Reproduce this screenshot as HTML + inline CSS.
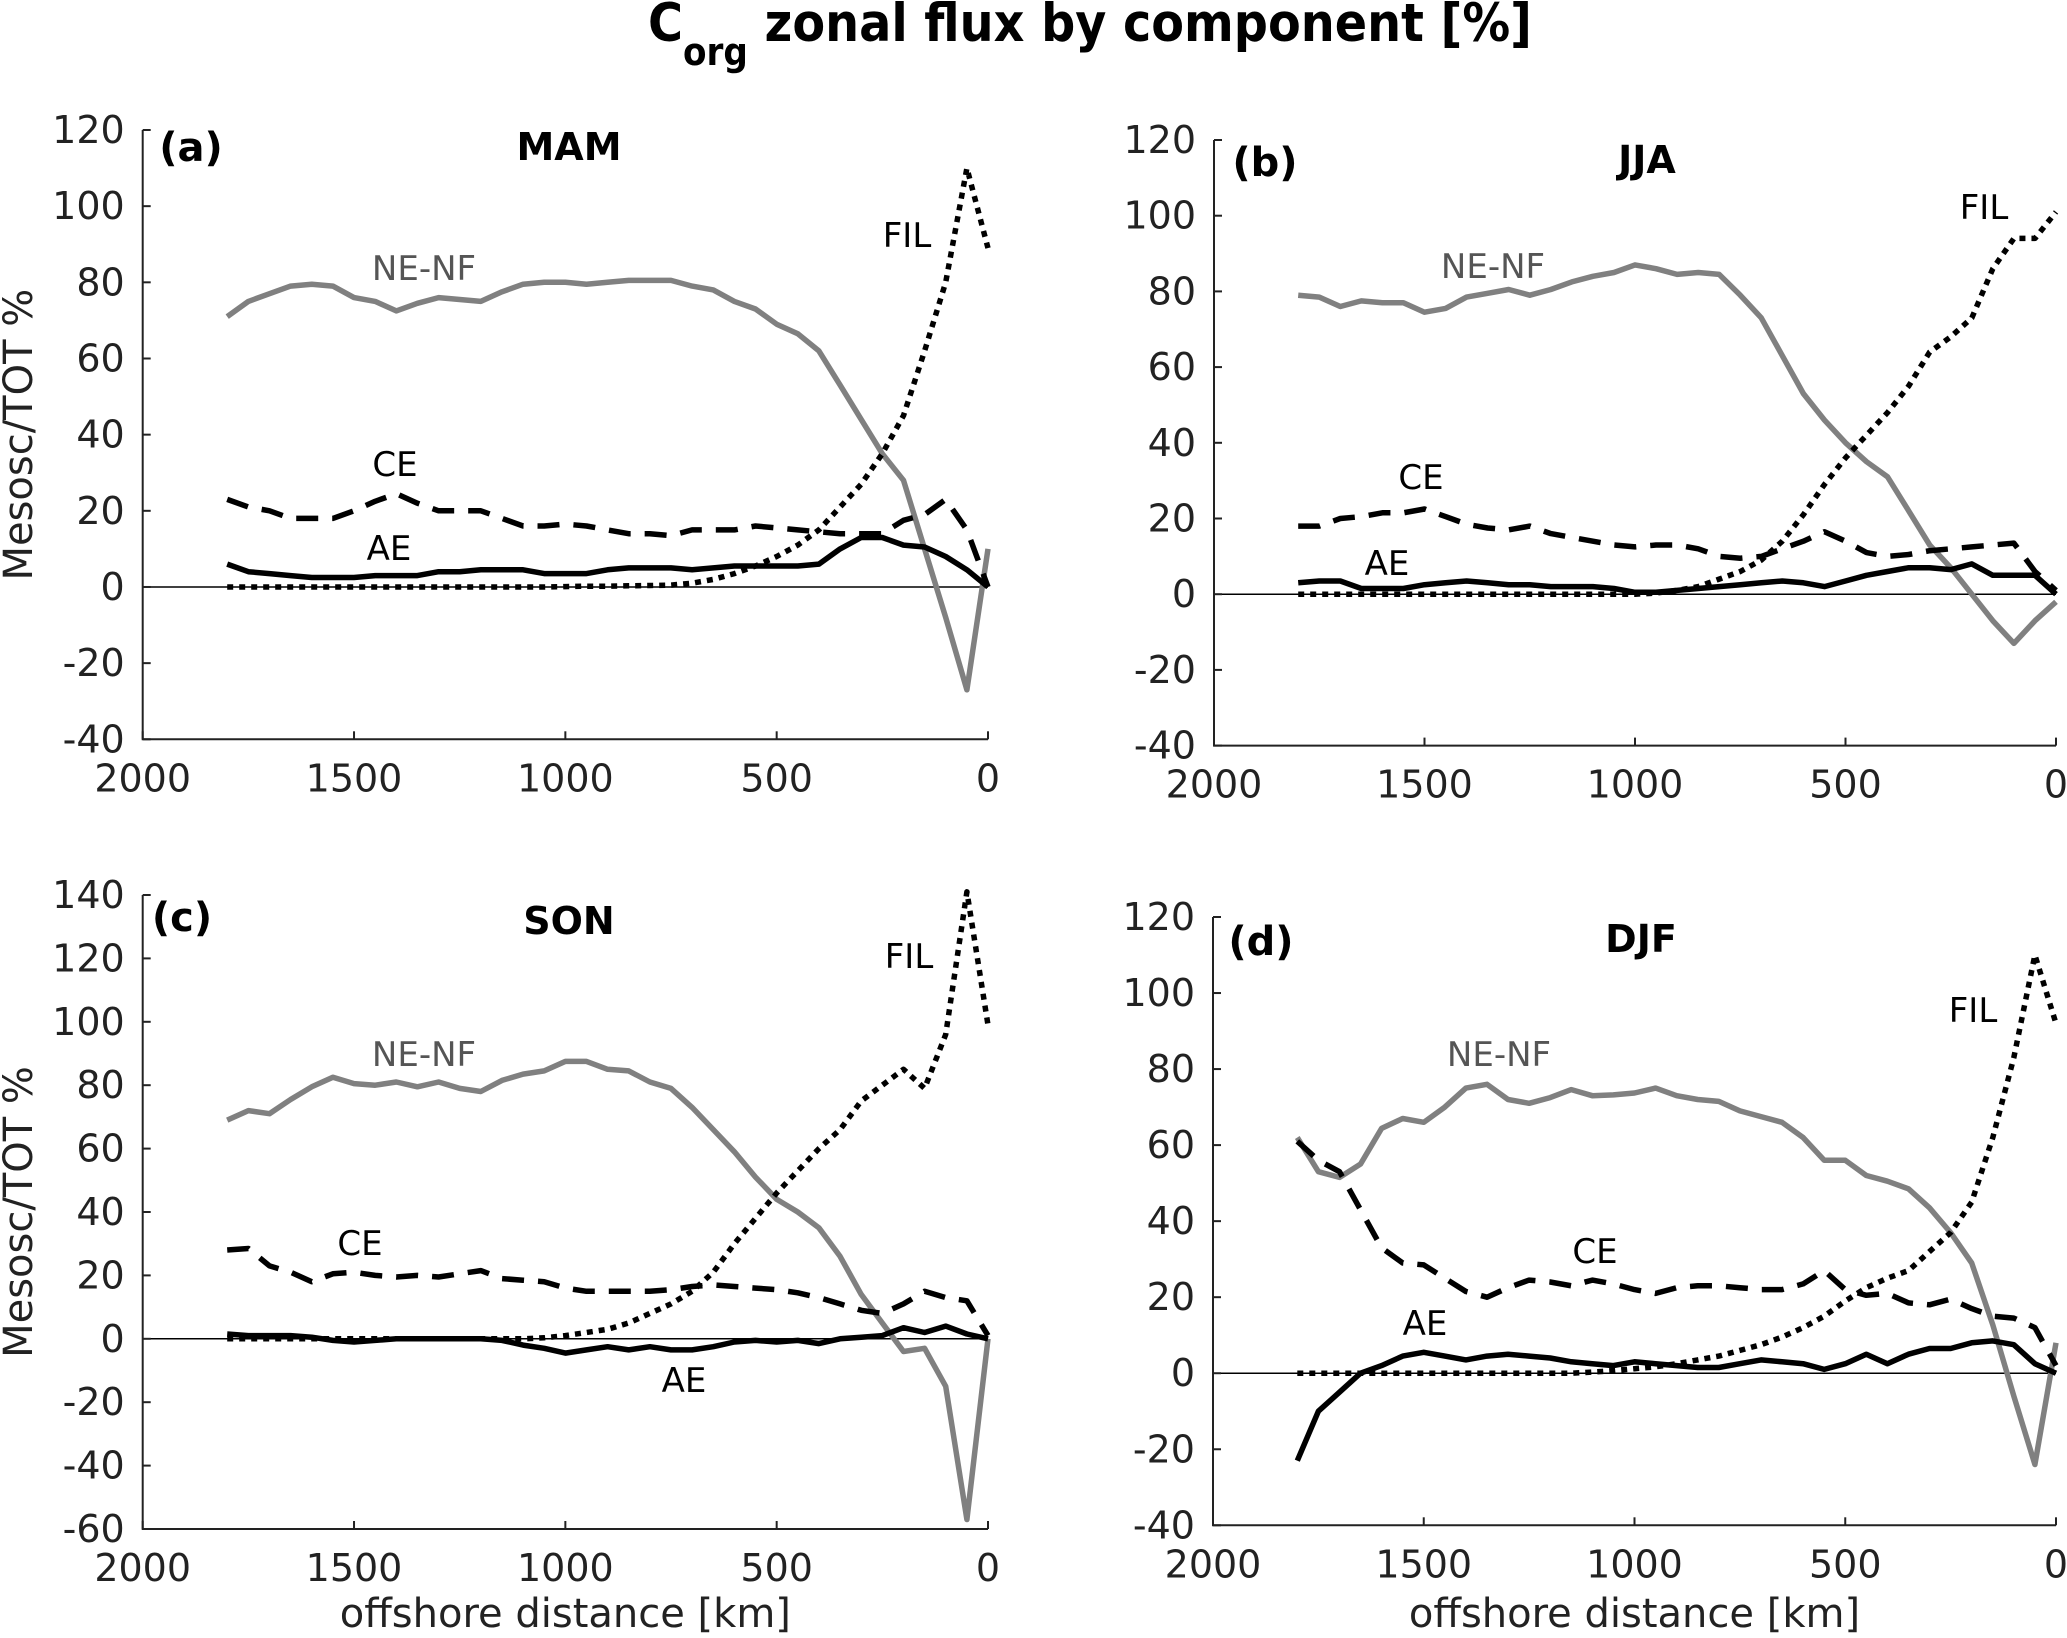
<!DOCTYPE html>
<html><head><meta charset="utf-8">
<style>
html,body{margin:0;padding:0;background:#fff;}
svg{display:block;font-family:"DejaVu Sans","Liberation Sans",sans-serif;}
</style></head>
<body>
<svg id="chart" width="2067" height="1638" viewBox="0 0 2067 1638" xmlns="http://www.w3.org/2000/svg">
<text x="648" y="41" font-size="53" font-weight="bold" fill="#000" textLength="884" lengthAdjust="spacingAndGlyphs">C<tspan dy="24" font-size="38">org</tspan><tspan dy="-24"> zonal flux by component  [%]</tspan></text>
<g id="plots"></g>
</svg>
<script>
// shared x positions (km offshore)
const xKm = [1800,1750,1700,1650,1600,1550,1500,1450,1400,1350,1300,1250,1200,1150,1100,1050,1000,950,900,850,800,750,700,650,600,550,500,450,400,350,300,250,200,150,100,50,0];
const xTicks = [2000,1500,1000,500,0];

// (a) MAM
const mamNENF = [71,75,77,79,79.5,79,76,75,72.5,74.5,76,75.5,75,77.5,79.5,80,80,79.5,80,80.5,80.5,80.5,79,78,75,73,69,66.5,62,53,44,35,28,10,-8,-27,10];
const mamCE = [23,21,20,18,18,18,20,22.5,24.5,22,20,20,20,18,16,16,16.5,16,15,14,14,13.5,15,15,15,16,15.5,15,14.5,14,14,14,17.5,19,23,15,0];
const mamAE = [6,4,3.5,3,2.5,2.5,2.5,3,3,3,4,4,4.5,4.5,4.5,3.5,3.5,3.5,4.5,5,5,5,4.5,5,5.5,5.5,5.5,5.5,6,10,13,13,11,10.5,8,4.5,0];
const mamFIL = [0,0,0,0,0,0,0,0,0,0,0,0,0,0,0,0,0.1,0.2,0.2,0.3,0.4,0.5,1,2,3.5,5.5,8,11,15,21,27,35,45,62,80,110,89];
// (b) JJA
const jjaNENF = [79,78.5,76,77.5,77,77,74.5,75.5,78.5,79.5,80.5,79,80.5,82.5,84,85,87,86,84.5,85,84.5,79,73,63,53,46,40,35,31,22,13,7,0,-7,-13,-7,-2];
const jjaCE = [18,18,20,20.5,21.5,21.5,22.5,20.5,18.5,17.5,17,18,16,15,14,13,12.5,13,13,12,10,9.5,10,12,14,16.5,14,11,10,10.5,11.5,12,12.5,13,13.5,6,1];
const jjaAE = [3,3.5,3.5,1.5,1.5,1.5,2.5,3,3.5,3,2.5,2.5,2,2,2,1.5,0.5,0.5,1,1.5,2,2.5,3,3.5,3,2,3.5,5,6,7,7,6.5,8,5,5,5,0];
const jjaFIL = [0,0,0,0,0,0,0,0,0,0,0,0,0,0,0,0,0,0.3,1,2,4,6,9,14,21,29,36,42,48,55,64,68,73,86,94,94,101];
// (c) SON
const sonNENF = [69,72,71,75.5,79.5,82.5,80.5,80,81,79.5,81,79,78,81.5,83.5,84.5,87.5,87.5,85,84.5,81,79,73,66,59,51,44,40,35,26,14,5,-4,-3,-15,-57,0];
const sonCE = [28,28.5,23,21,18,20.5,21,20,19.5,20,19.5,20.5,21.5,19,18.5,18,16,15,15,15,15,15.5,16.5,17,16.5,16,15.5,14.5,13,11,9,8,11,15,13,12,1];
const sonAE = [1.5,1,1,1,0.5,-0.5,-1,-0.5,0,0,0,0,0,-0.5,-2,-3,-4.5,-3.5,-2.5,-3.5,-2.5,-3.5,-3.5,-2.5,-1,-0.5,-1,-0.5,-1.5,0,0.5,1,3.5,2,4,1.5,0];
const sonFIL = [0,0,0,0,0,0,0,0,0,0,0,0,0,0,0,0.3,1,2,3,5,8,11,15,21,30,38,46,53,60,66,75,80,85,79,96,141,99];
// (d) DJF
const djfNENF = [62,53,51.5,55,64.4,67,66,70,75,76,72,71,72.5,74.6,73,73.2,73.7,75,73,72,71.5,69,67.5,66,62,56,56,52,50.5,48.5,43.5,37,29,12.7,-6,-24,8];
const djfCE = [61,56,53,43,33,29,28.5,25,21.5,20,22.5,24.5,24,23,24.5,23.5,22,21,22.5,23,23,22.5,22,22,23.5,27,22,20.5,21,18.5,18,19.5,17,15,14.5,12,2];
const djfAE = [-23,-10,-5,0,2,4.5,5.5,4.5,3.5,4.5,5,4.5,4,3,2.5,2,3,2.5,2,1.5,1.5,2.5,3.5,3,2.5,1,2.5,5,2.5,5,6.5,6.5,8,8.5,7.5,2.5,0];
const djfFIL = [0,0,0,0,0,0,0,0,0,0,0,0,0,0,0.3,0.7,1.2,1.7,2.5,3.5,4.5,6,7.5,9.5,12,15,19,22.5,25,27,32,37,45,62,83,110,92];

const yTicksA = [120,100,80,60,40,20,0,-20,-40];
const yTicksC = [140,120,100,80,60,40,20,0,-20,-40,-60];

const NS = 'http://www.w3.org/2000/svg';
const root = document.getElementById('plots');
function mk(tag, attrs, parent){
  const e = document.createElementNS(NS, tag);
  for (const k in attrs) e.setAttribute(k, attrs[k]);
  (parent||root).appendChild(e);
  return e;
}

const panels = [
  {id:'a', season:'MAM', x0:142.7, x1:988, yTop:130, yBot:739.3, yMax:120, yMin:-40, ticks:yTicksA,
   series:[mamNENF,mamCE,mamAE,mamFIL], letterPos:[191,160], titlePos:[569,160], ylab:true, xlab:false,
   labels:{ne:[424,268],ce:[395,464],ae:[389,548],fil:[907,235]}},
  {id:'b', season:'JJA', x0:1214, x1:2056, yTop:140, yBot:745.6, yMax:120, yMin:-40, ticks:yTicksA,
   series:[jjaNENF,jjaCE,jjaAE,jjaFIL], letterPos:[1265,175], titlePos:[1647,173], ylab:false, xlab:false,
   labels:{ne:[1493,266],ce:[1421,477],ae:[1387,563],fil:[1984,207]}},
  {id:'c', season:'SON', x0:142.7, x1:988, yTop:895, yBot:1529, yMax:140, yMin:-60, ticks:yTicksC,
   series:[sonNENF,sonCE,sonAE,sonFIL], letterPos:[182,930], titlePos:[569,934], ylab:true, xlab:true,
   labels:{ne:[424,1054],ce:[360,1243],ae:[684,1380],fil:[909,956]}},
  {id:'d', season:'DJF', x0:1213, x1:2056, yTop:917, yBot:1525.3, yMax:120, yMin:-40, ticks:yTicksA,
   series:[djfNENF,djfCE,djfAE,djfFIL], letterPos:[1261,954], titlePos:[1641,952], ylab:false, xlab:true,
   labels:{ne:[1499,1054],ce:[1595,1251],ae:[1425,1323],fil:[1973,1010]}}
];

const styles = [
  {name:'ne-nf-line', stroke:'#808080', dash:'none', w:5.5},
  {name:'ce-line', stroke:'#000', dash:'22 14', w:5.5},
  {name:'ae-line', stroke:'#000', dash:'none', w:5.5},
  {name:'fil-line', stroke:'#000', dash:'6 6', w:5.5}
];

panels.forEach(p => {
  const g = mk('g', {});
  
  
  const sx = v => p.x1 - v/2000*(p.x1-p.x0);
  const sy = v => p.yTop + (p.yMax - v)/(p.yMax - p.yMin)*(p.yBot-p.yTop);

  const z = mk('line', {x1:p.x0, x2:p.x1, y1:sy(0), y2:sy(0), stroke:'#000', 'stroke-width':1.5}, g);
  
  

  p.series.forEach((arr, i) => {
    const st = styles[i];
    const d = arr.map((v, j) => (j ? 'L' : 'M') + sx(xKm[j]).toFixed(1) + ',' + sy(v).toFixed(1)).join(' ');
    const path = mk('path', {d:d, fill:'none', stroke:st.stroke, 'stroke-width':st.w, 'stroke-dasharray':st.dash, 'stroke-linejoin':'round'}, g);
    
    
  });

  const ax = mk('path', {d:`M${p.x0},${p.yTop} L${p.x0},${p.yBot} L${p.x1},${p.yBot}`, fill:'none', stroke:'#222', 'stroke-width':2}, g);
  
  

  p.ticks.forEach(t => {
    const y = sy(t);
    mk('line', {x1:p.x0, x2:p.x0+8, y1:y, y2:y, stroke:'#222', 'stroke-width':2}, g);
    const tl = mk('text', {x:p.x0-18, y:y+13, 'font-size':38, 'text-anchor':'end', fill:'#222'}, g);
    tl.textContent = t;
    
    
  });
  xTicks.forEach(t => {
    const x = sx(t);
    mk('line', {x1:x, x2:x, y1:p.yBot, y2:p.yBot-8, stroke:'#222', 'stroke-width':2}, g);
    const tl = mk('text', {x:x, y:p.yBot+52, 'font-size':38, 'text-anchor':'middle', fill:'#222'}, g);
    tl.textContent = t;
    
    
  });

  const lt = mk('text', {x:p.letterPos[0], y:p.letterPos[1]+1, 'font-size':40, 'font-weight':'bold', 'text-anchor':'middle', fill:'#000'}, g);
  lt.textContent = '(' + p.id + ')';
  
  
  const tt = mk('text', {x:p.titlePos[0], y:p.titlePos[1], 'font-size':38, 'font-weight':'bold', 'text-anchor':'middle', fill:'#000'}, g);
  tt.textContent = p.season;
  
  

  const lab = [['ne','NE-NF','#555','ne-nf-label'],['ce','CE','#000','ce-label'],['ae','AE','#000','ae-label'],['fil','FIL','#000','fil-label']];
  lab.forEach(L => {
    const pos = p.labels[L[0]];
    const t = mk('text', {x:pos[0], y:pos[1]+12, 'font-size':34, 'text-anchor':'middle', fill:L[2]}, g);
    t.textContent = L[1];
    
    
  });

  if (p.ylab) {
    const cy = (p.yTop + p.yBot)/2;
    const t = mk('text', {x:0, y:0, 'font-size':40, 'text-anchor':'middle', fill:'#222', transform:`translate(32,${cy}) rotate(-90)`}, g);
    t.textContent = 'Mesosc/TOT %';
    
    
  }
  if (p.xlab) {
    const t = mk('text', {x:(p.x0+p.x1)/2, y:1627, 'font-size':40, 'text-anchor':'middle', fill:'#222'}, g);
    t.textContent = 'offshore distance [km]';
    
    
  }
});
</script>
</body></html>
